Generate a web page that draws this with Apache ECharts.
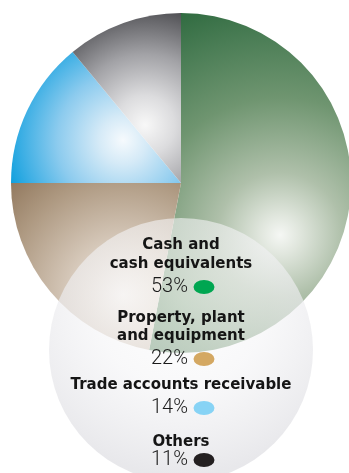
<!DOCTYPE html>
<html><head><meta charset="utf-8">
<script src="https://cdn.jsdelivr.net/npm/echarts@6/dist/echarts.min.js"></script>
<style>html,body{margin:0;padding:0;background:#fff}#c{width:349px;height:473px}</style>
</head><body><div id="c"></div>
<script>
const categories = ['Cash and\ncash equivalents', 'Property, plant\nand equipment', 'Trade accounts receivable', 'Others'];
const values = [53, 22, 14, 11];
const percentLabels = ['53%', '22%', '14%', '11%'];
const markerColors = ['#00a651', '#d4a862', '#87d3f5', '#231f20'];

// gradient styling for slices (global pixel coordinates)
const sliceGradients = [
  {x: 280, y: 235, r: 250, stops: ['#f5f7f4', '#e0e6dd', '#afc0aa', '#6f9570', '#4a7d55', '#2c683d'], pos: [0, 0.08, 0.25, 0.55, 0.8, 1]},
  {x: 123, y: 295, r: 170, stops: ['#f4efea', '#d8cbbd', '#ad9880', '#8a7055'], pos: [0, 0.3, 0.7, 1]},
  {x: 123, y: 140, r: 120, stops: ['#f6fafd', '#d5eaf7', '#8ccbee', '#3aaee4', '#10a0dd'], pos: [0, 0.2, 0.55, 0.85, 1]},
  {x: 145, y: 125, r: 118, stops: ['#f8f8f8', '#dcdcde', '#a2a2a6', '#505054'], pos: [0, 0.25, 0.6, 1]}
];
function grad(g){
  return new echarts.graphic.RadialGradient(g.x, g.y, g.r, g.stops.map((c,i)=>({offset:g.pos[i], color:c})), true);
}

const chart = echarts.init(document.getElementById('c'), null, {renderer:'canvas'});
const CX = 181;
// legend layout: y of name lines and percent line
const legendLayout = [
  {nameY: [245, 264], pctY: 287},
  {nameY: [318, 336], pctY: 359},
  {nameY: [385], pctY: 408},
  {nameY: [442], pctY: 460}
];
const graphics = [{
  type: 'circle', z: 10, silent: true,
  shape: {cx: CX, cy: 350, r: 132},
  style: {fill: new echarts.graphic.RadialGradient(CX, 300, 175, [
    {offset: 0, color: 'rgba(255,255,255,0.6)'},
    {offset: 0.5, color: 'rgba(244,244,246,0.6)'},
    {offset: 1, color: 'rgba(226,226,230,0.8)'}
  ], true)}
}];
categories.forEach((name, i) => {
  const lines = name.split('\n');
  const L = legendLayout[i];
  lines.forEach((ln, j) => {
    graphics.push({type: 'text', z: 20, silent: true, x: CX, y: L.nameY[j],
      style: {text: ln, fill: '#151515', font: 'bold 15px "DejaVu Sans", sans-serif', textAlign: 'center', textVerticalAlign: 'middle'}});
  });
  graphics.push({type: 'text', z: 20, silent: true, x: 188, y: L.pctY,
    style: {text: percentLabels[i], fill: '#1a1a1a', font: '300 20px Roboto, sans-serif', textAlign: 'right', textVerticalAlign: 'middle'}});
  graphics.push({type: 'circle', z: 20, silent: true, x: 204, y: L.pctY, scaleX: 1.5,
    shape: {cx: 0, cy: 0, r: 7}, style: {fill: markerColors[i]}});
});

chart.setOption({
  animation: false,
  backgroundColor: '#ffffff',
  series: [{
    type: 'pie',
    center: [CX, 183],
    radius: [0, 170],
    startAngle: 90,
    clockwise: true,
    silent: true,
    z: 2,
    label: {show: false},
    labelLine: {show: false},
    itemStyle: {borderWidth: 0},
    data: categories.map((n, i) => ({name: n, value: values[i], itemStyle: {color: grad(sliceGradients[i])}}))
  }],
  graphic: graphics
});
</script></body></html>
